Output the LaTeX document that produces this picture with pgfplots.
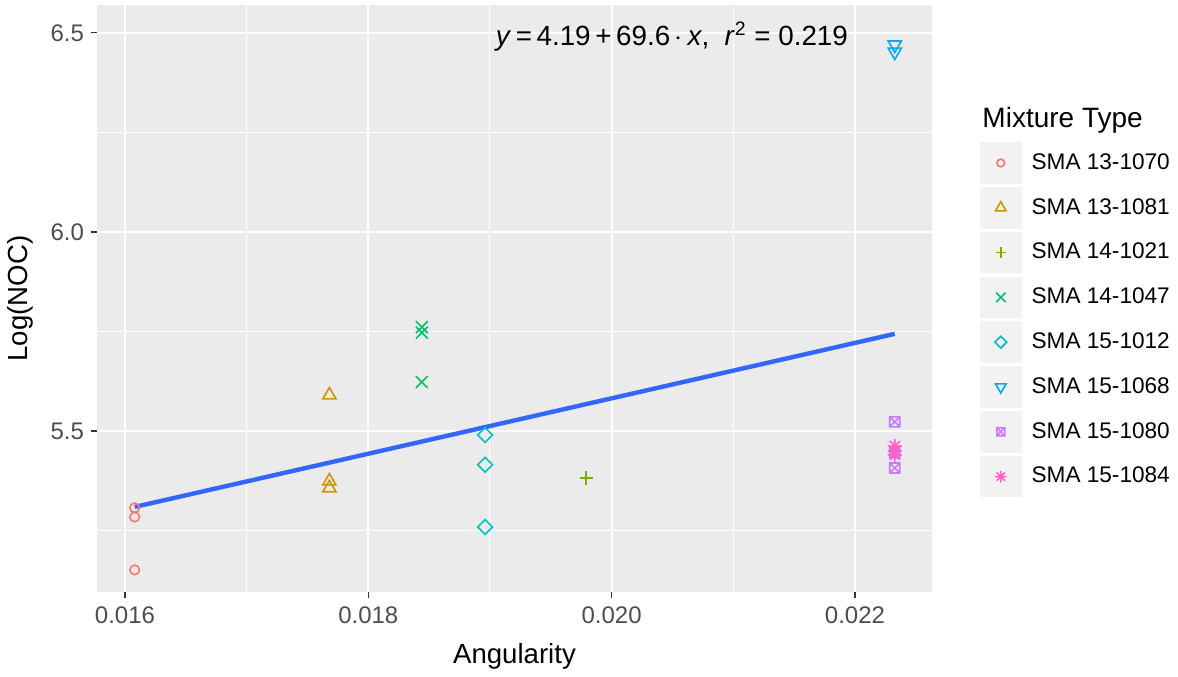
\documentclass[border=0pt]{standalone}
\usepackage{fontspec}
\setmainfont{Liberation Sans}
\usepackage{pgfplots}
\pgfplotsset{compat=1.18}
\definecolor{c1}{HTML}{F8766D}
\definecolor{c2}{HTML}{CD9600}
\definecolor{c3}{HTML}{7CAE00}
\definecolor{c4}{HTML}{00BE67}
\definecolor{c5}{HTML}{00BFC4}
\definecolor{c6}{HTML}{00A9FF}
\definecolor{c7}{HTML}{C77CFF}
\definecolor{c8}{HTML}{FF61CC}
\definecolor{panelbg}{HTML}{EBEBEB}
\definecolor{keybg}{HTML}{F2F2F2}
\definecolor{tickc}{HTML}{333333}
\definecolor{labc}{HTML}{4D4D4D}
\definecolor{regc}{HTML}{3366FF}
\pgfdeclareplotmark{sqx}{%
  \pgfpathrectangle{\pgfqpoint{-\pgfplotmarksize}{-\pgfplotmarksize}}{\pgfqpoint{2\pgfplotmarksize}{2\pgfplotmarksize}}%
  \pgfpathmoveto{\pgfqpoint{-\pgfplotmarksize}{-\pgfplotmarksize}}\pgfpathlineto{\pgfqpoint{\pgfplotmarksize}{\pgfplotmarksize}}%
  \pgfpathmoveto{\pgfqpoint{-\pgfplotmarksize}{\pgfplotmarksize}}\pgfpathlineto{\pgfqpoint{\pgfplotmarksize}{-\pgfplotmarksize}}%
  \pgfusepathqstroke}
\pgfdeclareplotmark{ast8}{%
  \pgfpathmoveto{\pgfqpoint{-\pgfplotmarksize}{0pt}}\pgfpathlineto{\pgfqpoint{\pgfplotmarksize}{0pt}}%
  \pgfpathmoveto{\pgfqpoint{0pt}{-\pgfplotmarksize}}\pgfpathlineto{\pgfqpoint{0pt}{\pgfplotmarksize}}%
  \pgfpathmoveto{\pgfqpoint{-.7071\pgfplotmarksize}{-.7071\pgfplotmarksize}}\pgfpathlineto{\pgfqpoint{.7071\pgfplotmarksize}{.7071\pgfplotmarksize}}%
  \pgfpathmoveto{\pgfqpoint{-.7071\pgfplotmarksize}{.7071\pgfplotmarksize}}\pgfpathlineto{\pgfqpoint{.7071\pgfplotmarksize}{-.7071\pgfplotmarksize}}%
  \pgfusepathqstroke}
\begin{document}
\begin{tikzpicture}
\begin{axis}[
  name=ax,
  scale only axis,
  width=417.5pt, height=293.5pt,
  xmin=0.01577, xmax=0.022633,
  ymin=5.0955, ymax=6.570,
  scaled x ticks=false, scaled y ticks=false,
  axis background/.style={fill=panelbg},
  axis line style={draw=none},
  xtick={0.016,0.018,0.020,0.022},
  xticklabels={0.016,0.018,0.020,0.022},
  ytick={5.5,6.0,6.5},
  yticklabels={5.5,6.0,6.5},
  minor xtick={0.017,0.019,0.021},
  minor ytick={5.25,5.75,6.25},
  grid=both,
  major grid style={white, line width=1pt},
  minor grid style={white, line width=0.5pt},
  tick align=outside,
  major tick length=3pt,
  minor tick length=0pt,
  tick style={tickc, line width=0.6pt},
  xtick pos=bottom, ytick pos=left,
  ticklabel style={font=\fontsize{12}{14}\selectfont, text=labc},
  xticklabel style={yshift=-1pt},
  /pgf/number format/assume math mode=true,
  xlabel={Angularity},
  ylabel={Log(NOC)},
  label style={font=\fontsize{13.8}{16}\selectfont},
  xlabel style={yshift=-3pt},
  ylabel style={yshift=2pt},
  legend cell align=left,
  legend style={at={(1.057,0.767)}, anchor=north west, draw=none, fill=none,
    font=\fontsize{11.3}{13}\selectfont, row sep=1.6pt, inner sep=0pt,
    nodes={inner sep=0pt}, /tikz/every odd column/.append style={column sep=5pt}},
  legend image code/.code={%
    \fill[keybg] (0pt,-10pt) rectangle (20pt,10pt);
    \draw[#1, scale=0.8] plot coordinates {(12.5pt,0pt)};},
  clip=false,
]
\addplot[only marks, mark=o, mark size=2.4pt, c1, line width=0.8pt]
  coordinates {(0.01608,5.307) (0.01608,5.284) (0.01608,5.151)};
\addlegendentry{SMA 13-1070}
\addplot[only marks, mark=triangle, mark size=3.8pt, c2, line width=0.8pt]
  coordinates {(0.01768,5.590) (0.01768,5.374) (0.01768,5.357)};
\addlegendentry{SMA 13-1081}
\addplot[only marks, mark=+, mark size=3.3pt, c3, line width=0.8pt]
  coordinates {(0.01979,5.382)};
\addlegendentry{SMA 14-1021}
\addplot[only marks, mark=x, mark size=4.2pt, c4, line width=0.8pt]
  coordinates {(0.01844,5.761) (0.01844,5.747) (0.01844,5.623)};
\addlegendentry{SMA 14-1047}
\addplot[only marks, mark=square, mark size=2.6pt, mark options={rotate=45}, c5, line width=0.8pt]
  coordinates {(0.01896,5.490) (0.01896,5.415) (0.01896,5.259)};
\addlegendentry{SMA 15-1012}
\addplot[only marks, mark=triangle, mark size=3.8pt, mark options={rotate=180}, c6, line width=0.8pt]
  coordinates {(0.022327,6.470) (0.022327,6.452)};
\addlegendentry{SMA 15-1068}
\addplot[only marks, mark=sqx, mark size=2.5pt, c7, line width=0.8pt]
  coordinates {(0.022327,5.523) (0.022327,5.445) (0.022327,5.407)};
\addlegendentry{SMA 15-1080}
\addplot[only marks, mark=ast8, mark size=3.6pt, c8, line width=0.8pt]
  coordinates {(0.022327,5.462) (0.022327,5.450) (0.022327,5.440)};
\addlegendentry{SMA 15-1084}
\addplot[regc, line width=2.2pt, forget plot]
  coordinates {(0.01608,5.3092) (0.022327,5.7440)};
\node[font=\fontsize{13.9}{16}\selectfont, anchor=center] at (axis cs:0.020495,6.49)
  {\textit{y}\,=\,4.19\,+\,69.6\,$\cdot$\,\textit{x},\ \ \textit{r}\textsuperscript{2} = 0.219};
\node[font=\fontsize{14}{16}\selectfont, anchor=west] at (rel axis cs:1.052,0.804) {Mixture Type};
\end{axis}
\pgfresetboundingbox
\path ([shift={(-48.5pt,-42pt)}]ax.south west) rectangle ++(589pt,338pt);
\end{tikzpicture}
\end{document}
